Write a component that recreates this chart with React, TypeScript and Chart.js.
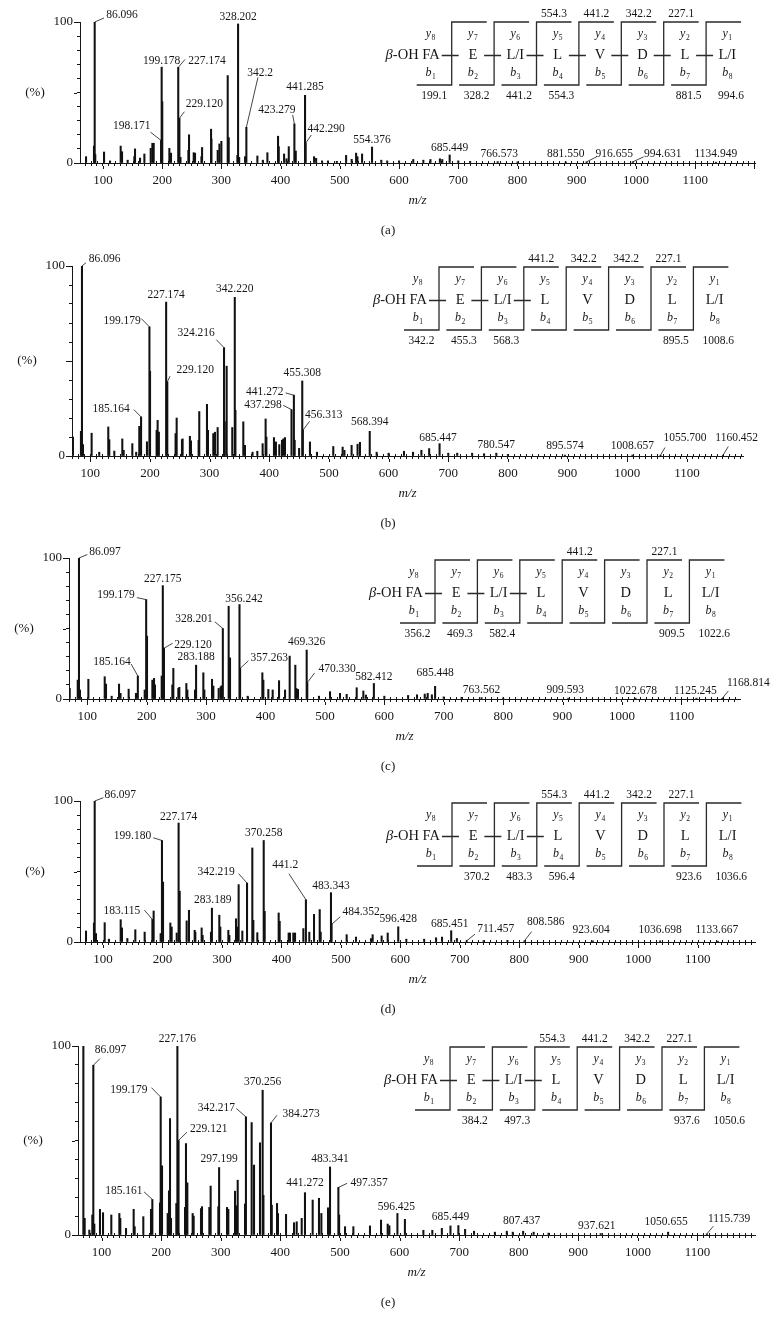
import React, { useEffect, useRef } from "react";
import { Chart, registerables } from "chart.js";

Chart.register(...registerables);

const SERIF = '"Liberation Serif", "Times New Roman", serif';
const INK = "#161616";

// ---------- data: [m/z, relative intensity %] ----------
const peaksA: [number, number][] = [
  [71.5, 4.5], [84.9, 12], [86.096, 100], [87.1, 6], [101.9, 7.8], [112, 1.5], [130, 12], [132.3, 8],
  [141.8, 2], [153, 4.5], [154.2, 10], [162.7, 3.5], [170, 6.4], [180.7, 10.4], [183.5, 14], [185.7, 14],
  [198.171, 16], [199.178, 68], [200.2, 43.5], [212.2, 10.4], [215, 7], [227.174, 67.8], [229.12, 31.7],
  [231, 4], [244.3, 9], [245.4, 20], [253.3, 7.3], [255.5, 7], [266.3, 4.5], [267.4, 11], [282.6, 24],
  [283.2, 17], [293.8, 9], [296.7, 13.5], [300, 15.4], [310.7, 62], [312.4, 18], [327, 5.4],
  [328.202, 98.6], [330, 4], [340, 4.5], [342.2, 25.3], [360.8, 5], [370, 2], [377.7, 7.3], [395.7, 19],
  [396.9, 11.6], [405.9, 6.4], [410, 3], [413.8, 11.6], [423.279, 27.7], [425.6, 8.5], [441.285, 48],
  [442.29, 14], [456.5, 4.5], [460, 3.3], [470, 1.5], [480, 1.5], [495, 1.2], [510.6, 5.4], [520, 2.6],
  [527.5, 7], [529.7, 4.5], [537.6, 6.4], [554.376, 11.3], [570, 2], [580, 1.5], [600, 1.5], [624, 2.5],
  [641, 2], [653, 2.5], [669, 3], [673, 2.5], [685.449, 5.7], [700, 1.5], [720, 1.2], [766.573, 1],
  [800, 0.8], [881.55, 0.8], [916.655, 0.8], [994.631, 0.8], [1134.949, 0.6],
];

const peaksB: [number, number][] = [
  [71, 10], [84.4, 13], [86.096, 100], [87.8, 6], [102.3, 12], [115, 2], [130.2, 15.3], [131.9, 8.6],
  [140.3, 2.6], [153.7, 9], [156, 3], [170.5, 6.5], [177, 2], [182.2, 15.6], [185.164, 20.6], [195, 7.5],
  [199.179, 68], [200.2, 44.6], [211.2, 13.5], [212.9, 18.8], [215, 12.6], [227.174, 81], [229.12, 39],
  [243, 11.8], [244.8, 20], [253.7, 8.6], [254.8, 9], [267, 10.4], [268.8, 8], [281.6, 8.3], [282.7, 23.4],
  [295.6, 27.2], [297.3, 13.5], [306.2, 11.8], [309, 12.5], [313.5, 15], [324.216, 57], [325.4, 18],
  [328.6, 47.3], [338, 15], [342.22, 83.5], [343.3, 24], [356.5, 18], [359.3, 5.6], [372, 2], [380, 2.5],
  [388.9, 6.5], [393.9, 19.5], [395.2, 10], [407.9, 9.7], [411.2, 7.4], [416.8, 6], [421.3, 8.3],
  [423.5, 9], [426.3, 9.7], [437.298, 24.4], [441.272, 32], [442.6, 8.3], [450, 4], [455.308, 39.5],
  [456.313, 13.5], [468.2, 7.4], [480, 2], [507.3, 5], [523, 4.7], [526, 3], [538, 5.6], [548, 6.2],
  [552, 7.2], [568.394, 13], [580, 2], [600, 1.5], [625.8, 2.5], [641, 2], [655, 3], [668, 3.9],
  [685.447, 6.5], [700, 1.5], [715, 1.5], [740, 1.5], [760, 1.2], [780.547, 1.5], [800, 0.8],
  [895.574, 0.5], [1008.657, 0.5], [1055.7, 0.4], [1160.452, 0.4],
];

const peaksC: [number, number][] = [
  [70.5, 7.5], [84, 13.4], [86.097, 100], [87.8, 6.4], [101.9, 14], [129.4, 15.8], [131.6, 10.6],
  [141.1, 2], [153.5, 10.6], [156, 4], [169.7, 7], [182, 4], [185.164, 16.3], [196.7, 6.4],
  [199.179, 70.5], [200.6, 44.6], [209.6, 13.4], [212.4, 14.6], [214, 10], [225.3, 16.3],
  [227.175, 80.4], [229.12, 36], [243.2, 10], [244.9, 21.7], [253.3, 7.5], [255, 8.3], [266.8, 11],
  [268.5, 6.4], [281.4, 6.4], [283.188, 24], [295.4, 18.6], [297.1, 6.4], [310, 14], [312.2, 9.2],
  [321.2, 7.5], [324.6, 8.7], [326.3, 9.4], [328.201, 50], [338, 65.8], [340.3, 29.2], [356.242, 67],
  [357.263, 21.7], [370, 2], [394.7, 18.6], [396.4, 13.4], [404.8, 6.8], [412.1, 6.4], [422.8, 13],
  [432.9, 6.4], [440.7, 30.4], [450.2, 24], [452, 7.5], [454.7, 6.8], [469.326, 34.7], [470.33, 11.6],
  [490, 2], [508.6, 5.2], [525.4, 4], [536.6, 3.3], [553.5, 8], [564.7, 5.7], [569, 2.8], [582.412, 11],
  [600, 2], [640, 2.5], [655, 3], [668, 3.5], [673, 4], [680, 3], [685.448, 9], [700, 1.5], [730, 1.2],
  [763.562, 1], [800, 0.8], [909.593, 0.6], [1022.678, 0.6], [1125.245, 0.6], [1168.814, 0.5],
];

const peaksD: [number, number][] = [
  [71.5, 7.8], [84.9, 13.5], [86.097, 100], [88.3, 6], [102.9, 13.7], [110, 2], [129.8, 15.8], [132, 10],
  [141, 2.5], [154.4, 8.7], [170.1, 7], [183.115, 16], [185.2, 22], [197, 6], [199.18, 72], [201, 42.5],
  [213.3, 13.5], [215.5, 10.6], [224, 6.4], [227.174, 84.4], [229, 36], [240.7, 15], [244.6, 22.5],
  [254.2, 8.3], [255.3, 7], [265.9, 10], [267.6, 4.7], [281.6, 7], [283.189, 24], [295.6, 19],
  [297.3, 10.6], [310.8, 8.3], [312.5, 4.7], [323.7, 16.5], [325.9, 10.6], [328.1, 40.7], [334.3, 7.8],
  [342.219, 41.8], [351.1, 66.7], [352.8, 15.4], [359.5, 6.6], [370.258, 72], [371.9, 21.7],
  [395.4, 20.6], [397.1, 14.7], [412.2, 6.4], [414.4, 6.4], [420, 6.4], [422.9, 6.4], [436.9, 9.5],
  [441.2, 30], [446.9, 7], [454.8, 19.6], [464.4, 23], [466, 7], [483.343, 35], [484.352, 12.5],
  [509.7, 5.2], [525.4, 3.5], [550.6, 2.4], [553.4, 5.2], [568.5, 4.3], [578.7, 6.4], [596.428, 10.8],
  [610, 2], [640, 2], [660, 3], [670, 3.5], [685.451, 8], [695, 2.5], [711.457, 0.8], [740, 1],
  [780, 1.2], [808.586, 0.8], [923.604, 0.8], [1036.698, 0.8], [1133.667, 0.6],
];

const peaksE: [number, number][] = [
  [69.4, 100], [71.6, 8.8], [79.4, 2.6], [84.4, 10.6], [86.097, 89.8], [87.8, 5.8], [97.3, 13.6],
  [102.4, 11.8], [116.3, 10.6], [129.8, 11.4], [131.4, 8.8], [141, 3.5], [153.8, 13.6], [155.5, 4.4],
  [170, 9.7], [182.9, 13.6], [185.161, 18.8], [198, 17], [199.179, 73], [201.4, 36.6], [210.9, 11.4],
  [213.1, 23.4], [214.8, 61.6], [216.5, 8.8], [225.4, 16.7], [227.176, 100], [229.121, 50], [240, 14.6],
  [241.6, 48.4], [243.9, 27.6], [252.8, 11.4], [254.5, 10], [266.8, 14], [268.5, 15], [280.8, 14.6],
  [283, 25.9], [295.9, 15], [297.199, 35.7], [310.5, 14.6], [312.7, 13.6], [323.9, 23.2], [326.1, 15.5],
  [328.4, 29], [340.7, 16.4], [342.217, 62.5], [351.8, 59.5], [355.8, 37], [365.8, 48.8],
  [370.256, 76.6], [371.6, 21], [384.273, 59.3], [385.6, 15.8], [394.4, 16.7], [396, 11.4],
  [409.5, 10.9], [422.9, 6.5], [427.4, 7], [435.8, 8.8], [441.272, 22.4], [454.2, 18.5], [464.8, 19.4],
  [468.8, 11.4], [480, 14.4], [483.341, 36], [497.357, 25.2], [498.6, 10.6], [508.5, 4.4], [522.5, 4.4],
  [550.4, 4.8], [568.9, 7.9], [580.1, 5.8], [582.9, 4.9], [596.425, 11.4], [609, 8.3], [640, 2.5],
  [655, 2.5], [671, 3.5], [685.449, 4.8], [698.7, 5], [710, 3], [725, 2], [760, 1.5], [780, 2],
  [790, 1.5], [807.437, 2], [825, 1.5], [850, 1], [937.621, 0.8], [1050.655, 1.5], [1115.739, 0.6],
];

// ---------- peptide fragment scheme ----------
const residues = ["E", "L/I", "L", "V", "D", "L", "L/I"];
const yTopA = [null, null, "554.3", "441.2", "342.2", "227.1", null];
const bBotA = ["199.1", "328.2", "441.2", "554.3", null, null, "881.5", "994.6"];
const yTopB = [null, null, "441.2", "342.2", "342.2", "227.1", null];
const bBotB = ["342.2", "455.3", "568.3", null, null, null, "895.5", "1008.6"];
const yTopC = [null, null, null, "441.2", null, "227.1", null];
const bBotC = ["356.2", "469.3", "582.4", null, null, null, "909.5", "1022.6"];
const yTopD = [null, null, "554.3", "441.2", "342.2", "227.1", null];
const bBotD = [null, "370.2", "483.3", "596.4", null, null, "923.6", "1036.6"];
const yTopE = [null, null, "554.3", "441.2", "342.2", "227.1", null];
const bBotE = [null, "384.2", "497.3", null, null, null, "937.6", "1050.6"];

// ---------- peak label layout: [text, dx, dy, leaderDx?, leaderDy?] (px offsets from peak top) ----------
type Lab = [string, number, number, number?, number?];
const labA: Lab[] = [
  ["86.096", 27.3, -7, 9.3, -4], ["199.178", 0, -6.5], ["227.174", 28.8, -6.5, 6.8, -8],
  ["328.202", 0, -7], ["229.120", 25, -14, 5, -6.6], ["198.171", -29.3, -14, -10.6, -8.3],
  ["342.2", 13.8, -54.3, 11.6, -50], ["423.279", -17.5, -14, -1.7, -9], ["441.285", 0, -8],
  ["442.290", 20.5, -14, 5.7, -8.3], ["554.376", 0, -7], ["685.449", 0, -7], ["766.573", 1.5, -7.5],
  ["881.550", 0, -7.5], ["916.655", 27.7, -7.7, 10.4, -5.3], ["994.631", 30, -8, 10.8, -5],
  ["1134.949", 0, -8],
];
const labB: Lab[] = [
  ["86.096", 22.7, -6.7, 4, -3.3], ["199.179", -27.3, -6, -8.3, -8.3], ["227.174", 0, -7.3],
  ["342.220", 0, -8], ["324.216", -27.9, -15, -7.7, -8], ["229.120", 27.9, -11.7, 2.7, -5.7],
  ["185.164", -29.9, -7.4, -7.3, -7.3], ["455.308", 0, -8], ["441.272", -29.1, -3.3, -8.3, -2.3],
  ["437.298", -28.5, -4.3, -8.3, -4.3], ["456.313", 20.9, -15, 6.7, -9], ["568.394", 0, -9.3],
  ["685.447", -1.6, -6], ["780.547", 0, -8], ["895.574", 0, -9], ["1008.657", 0, -9],
  ["1055.700", 24.5, -17, 4.5, -7.7], ["1160.452", 13.7, -17.5, 5.3, -8.7],
];
const labC: Lab[] = [
  ["86.097", 26, -6, 8.3, -3.4], ["199.179", -30.2, -5, -9.3, -2], ["227.175", 0, -6.3],
  ["356.242", 4.5, -5.7], ["328.201", -28.8, -10, -8, -6.7], ["229.120", 29.1, -3.3, 8.7, -5],
  ["283.188", 0, -7.7], ["185.164", -25.9, -14.3, -6.7, -12], ["357.263", 29.2, -10.6, 8.3, -7.6],
  ["469.326", 0, -8.3], ["470.330", 29.8, -13.7, 7.3, -9.7], ["582.412", 0, -6.5],
  ["685.448", 0, -13], ["763.562", 0, -7.6], ["909.593", -3, -8], ["1022.678", 0, -7],
  ["1125.245", -1, -7], ["1168.814", 26, -15.7, 6, -7.3],
];
const labD: Lab[] = [
  ["86.097", 25.6, -5.7, 8.7, -3.3], ["199.180", -29.5, -4, -8.7, -2.7], ["227.174", 0, -6],
  ["370.258", 0, -7.3], ["342.219", -30.9, -11, -8.4, -9.4], ["441.2", -20.6, -34.3, -17, -26],
  ["483.343", 0, -6.3], ["283.189", 0.8, -7.7], ["183.115", -30.5, -8.6, -8, -9.3],
  ["484.352", 29.5, -12.6, 8.7, -7.6], ["596.428", 0, -7.4], ["685.451", -1.5, -7],
  ["711.457", 29, -11.7, 8.3, -6.7], ["808.586", 21.3, -18.4, 7.2, -9.3], ["923.604", -1.7, -11],
  ["1036.698", 0, -11], ["1133.667", -1, -11],
];
const labE: Lab[] = [
  ["86.097", 17.2, -15, 6.7, -6.7], ["227.176", 0, -7.4], ["199.179", -31.8, -7.4, -9.3, -9.4],
  ["370.256", 0, -8.3], ["342.217", -29.6, -8.4, -9.6, -8.4], ["384.273", 30.1, -9.4, 6, -7.7],
  ["229.121", 30.2, -11.7, 8.4, -8.3], ["297.199", 0, -8.5], ["483.341", 0, -8.4],
  ["441.272", 0, -9.4], ["497.357", 30.8, -4, 8.7, -4], ["185.161", -28.5, -8.3, -8.3, -7.6],
  ["596.425", -1, -6], ["685.449", 0, -8.7], ["807.437", -1.5, -10.5], ["937.621", -4, -8],
  ["1050.655", -2, -10], ["1115.739", 22.3, -15, 6.4, -7.6],
];

// ---------- panel layout ----------
const W = 778;
const PANELS = [
  { tag: "(a)", top: 0, height: 250, left: 80, right: 755, plotTop: 22, plotBottom: 163, xMin: 61.3, xMax: 1201, peaks: peaksA, labels: labA, yTop: yTopA, bBot: bBotA, dashes: 7, v1: 451.7, fragY: 22 },
  { tag: "(b)", top: 250, height: 280, left: 72, right: 743, plotTop: 266, plotBottom: 456, xMin: 69.4, xMax: 1194, peaks: peaksB, labels: labB, yTop: yTopB, bBot: bBotB, dashes: 3, v1: 439, fragY: 267 },
  { tag: "(c)", top: 530, height: 250, left: 69, right: 740, plotTop: 558, plotBottom: 699, xMin: 69.3, xMax: 1198.6, peaks: peaksC, labels: labC, yTop: yTopC, bBot: bBotC, dashes: 3, v1: 435, fragY: 560 },
  { tag: "(d)", top: 780, height: 240, left: 80, right: 755, plotTop: 801, plotBottom: 942, xMin: 61.4, xMax: 1196.2, peaks: peaksD, labels: labD, yTop: yTopD, bBot: bBotD, dashes: 3, v1: 452, fragY: 803 },
  { tag: "(e)", top: 1020, height: 317, left: 78, right: 755, plotTop: 1046, plotBottom: 1235, xMin: 60.4, xMax: 1196.5, peaks: peaksE, labels: labE, yTop: yTopE, bBot: bBotE, dashes: 3, v1: 450, fragY: 1047 },
];
type Panel = typeof PANELS[number];
const X_AXIS_H = 30;

function txt(ctx: CanvasRenderingContext2D, s: string, x: number, y: number, size: number, align: CanvasTextAlign = "center", italic = false) {
  ctx.font = `${italic ? "italic " : ""}${size}px ${SERIF}`;
  ctx.textAlign = align;
  ctx.textBaseline = "middle";
  ctx.fillText(s, x, y);
}

function ionLabel(ctx: CanvasRenderingContext2D, letter: string, sub: string, cx: number, cy: number) {
  ctx.font = `italic 12px ${SERIF}`;
  const w1 = ctx.measureText(letter).width;
  ctx.font = `7.5px ${SERIF}`;
  const w2 = ctx.measureText(sub).width;
  const x0 = cx - (w1 + w2 + 0.5) / 2;
  ctx.textBaseline = "middle";
  ctx.textAlign = "left";
  ctx.font = `italic 12px ${SERIF}`;
  ctx.fillText(letter, x0, cy);
  ctx.font = `7.5px ${SERIF}`;
  ctx.fillText(sub, x0 + w1 + 0.5, cy + 4);
}

function drawFragment(ctx: CanvasRenderingContext2D, p: Panel) {
  const S = 42.4, SEG = 35;
  const T = p.fragY - p.top;
  const v = (k: number) => p.v1 + (k - 1) * S;
  ctx.save();
  ctx.strokeStyle = "#2a2a2a";
  ctx.lineWidth = 1.3;
  ctx.beginPath();
  for (let k = 1; k <= 7; k++) {
    ctx.moveTo(v(k) - SEG, T + 63);
    ctx.lineTo(v(k), T + 63);
    ctx.lineTo(v(k), T);
    ctx.lineTo(v(k) + SEG, T);
  }
  for (let k = 1; k <= p.dashes; k++) {
    ctx.moveTo(v(k) - 10, T + 33.5);
    ctx.lineTo(v(k) + 7, T + 33.5);
  }
  ctx.stroke();
  ctx.fillStyle = INK;
  // N-terminal fatty acid
  const xr = v(1) - 12;
  ctx.font = `14.5px ${SERIF}`;
  const wRest = ctx.measureText("-OH FA").width;
  txt(ctx, "-OH FA", xr, T + 33.5, 14.5, "right");
  txt(ctx, "β", xr - wRest, T + 33.5, 14.5, "right", true);
  residues.forEach((r, i) => txt(ctx, r, v(i + 1) + S / 2, T + 33.5, 14.5));
  for (let i = 0; i < 8; i++) {
    const cx = v(1) - S / 2 + i * S;
    ionLabel(ctx, "y", String(8 - i), cx, T + 12);
    ionLabel(ctx, "b", String(i + 1), cx, T + 51);
  }
  p.yTop.forEach((s, i) => { if (s) txt(ctx, s, v(i + 1) + SEG / 2, T - 8, 11.5); });
  p.bBot.forEach((s, i) => { if (s) txt(ctx, s, v(i + 1) - SEG / 2, T + 74, 11.5); });
  ctx.restore();
}

function makeOverlay(p: Panel) {
  return {
    id: "overlay",
    afterDraw(chart: any) {
      const ctx: CanvasRenderingContext2D = chart.ctx;
      const xs = chart.scales.x, ys = chart.scales.y;
      const y0 = ys.getPixelForValue(0);
      const ax = chart.chartArea.left;
      ctx.save();
      ctx.strokeStyle = INK;
      ctx.fillStyle = INK;
      ctx.lineWidth = 1;
      ctx.beginPath();
      xs.ticks.forEach((t: any) => {
        const px = Math.round(xs.getPixelForValue(t.value)) + 0.5;
        ctx.moveTo(px, y0 - 2);
        ctx.lineTo(px, y0);
        if (t.value % 100 === 0) {
          ctx.moveTo(px, y0 + 3);
          ctx.lineTo(px, y0 + 6);
        }
      });
      [0, 50, 100].forEach((v) => {
        const py = Math.round(ys.getPixelForValue(v)) + 0.5;
        ctx.moveTo(ax - 6, py);
        ctx.lineTo(ax - 3, py);
      });
      ctx.stroke();

      // axis captions and panel tag
      txt(ctx, "(%)", ax - 45, (ys.getPixelForValue(100) + y0) / 2, 13);
      txt(ctx, "m/z", (chart.chartArea.left + chart.chartArea.right) / 2, y0 + 38, 13, "center", true);
      txt(ctx, p.tag, 388, y0 + 68, 13);

      // peak labels with leader lines
      ctx.lineWidth = 0.8;
      p.labels.forEach(([s, dx, dy, lx, ly]) => {
        const val = Number(s);
        const pk = p.peaks.find((q) => Math.abs(q[0] - val) < 0.0005);
        if (!pk) return;
        const px = xs.getPixelForValue(pk[0]);
        const py = ys.getPixelForValue(pk[1]);
        if (lx !== undefined && ly !== undefined) {
          ctx.beginPath();
          ctx.moveTo(px, py);
          ctx.lineTo(px + lx, py + ly);
          ctx.stroke();
        }
        txt(ctx, s, px + dx, py + dy, 11.5);
      });

      drawFragment(ctx, p);
      ctx.restore();
    },
  };
}

function SpectrumPanel({ p }: { p: Panel }) {
  const ref = useRef<HTMLCanvasElement>(null);
  useEffect(() => {
    const canvas = ref.current!;
    const padTop = p.plotTop - p.top;
    const padBottom = p.height - (p.plotBottom - p.top) - X_AXIS_H;
    const chart = new Chart(canvas, {
      type: "bar",
      data: {
        datasets: [
          {
            data: p.peaks.map(([m, h]) => ({ x: m, y: h })),
            backgroundColor: "#111",
            borderWidth: 0,
            barThickness: 1.4,
          } as any,
        ],
      },
      options: {
        animation: false,
        responsive: false,
        devicePixelRatio: 1,
        layout: { padding: { top: padTop, bottom: padBottom, left: 0, right: W - p.right } },
        plugins: { legend: { display: false }, tooltip: { enabled: false } },
        scales: {
          x: {
            type: "linear",
            min: p.xMin,
            max: p.xMax,
            offset: false,
            afterBuildTicks: (s: any) => {
              const t = [];
              for (let v = Math.ceil(p.xMin / 10) * 10; v <= p.xMax; v += 10) t.push({ value: v });
              s.ticks = t;
            },
            afterFit: (s: any) => { s.height = X_AXIS_H; },
            grid: { display: true, drawOnChartArea: false, drawTicks: true, tickLength: 3, color: INK, tickColor: INK, offset: false },
            border: { display: true, color: INK, width: 1 },
            ticks: {
              autoSkip: false,
              maxRotation: 0,
              padding: 7,
              color: INK,
              font: { family: SERIF, size: 13 },
              callback: (v: any) => (v % 100 === 0 && v >= 100 && v <= 1100 ? String(v) : ""),
            },
          },
          y: {
            type: "linear",
            min: 0,
            max: 100,
            afterBuildTicks: (s: any) => {
              const t = [];
              for (let v = 0; v <= 100; v += 10) t.push({ value: v });
              s.ticks = t;
            },
            afterFit: (s: any) => { s.width = p.left; },
            grid: { display: true, drawOnChartArea: false, drawTicks: true, tickLength: 3, color: INK, tickColor: INK },
            border: { display: true, color: INK, width: 1 },
            ticks: {
              autoSkip: false,
              padding: 4,
              color: INK,
              font: { family: SERIF, size: 13 },
              callback: (v: any) => (v === 0 || v === 100 ? String(v) : ""),
            },
          },
        },
      } as any,
      plugins: [makeOverlay(p)],
    });
    return () => chart.destroy();
  }, [p]);
  return (
    <canvas
      ref={ref}
      width={W}
      height={p.height}
      style={{ position: "absolute", left: 0, top: p.top, width: W, height: p.height }}
    />
  );
}

export default function App() {
  return (
    <div style={{ position: "absolute", left: 0, top: 0, width: W, height: 1337, background: "#fff", overflow: "hidden" }}>
      {PANELS.map((p) => (
        <SpectrumPanel key={p.tag} p={p} />
      ))}
    </div>
  );
}
